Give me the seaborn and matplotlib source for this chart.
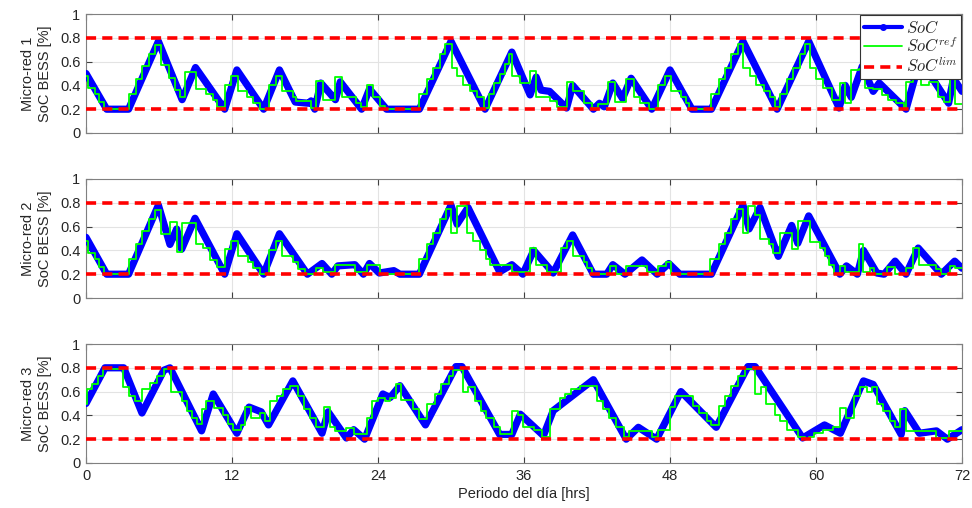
import numpy as np
import pandas as pd
import matplotlib
matplotlib.use("Agg")
import matplotlib.pyplot as plt
import seaborn as sns
from matplotlib.lines import Line2D

# ---------------- data ----------------
x_ticks = [0, 12, 24, 36, 48, 60, 72]
y_ticks = [0, 0.2, 0.4, 0.6, 0.8, 1]
soc_lim = [0.2, 0.8]
panel_names = ["Micro-red 1", "Micro-red 2", "Micro-red 3"]

# Micro-red 1
t1_soc = [0, 1.7, 3.5, 5.95, 7.9, 9.0, 11.4, 12.4, 14.6, 15.9, 17.2, 18.3, 18.5, 18.8, 19.3,
          20.5, 20.9, 22.65, 23.3, 24.7, 27.4, 30.0, 32.8, 35.0, 36.5, 37.0, 37.4, 38.1, 39.5,
          40.0, 41.7, 42.2, 42.6, 43.3, 44.1, 44.8, 46.5, 48.0, 49.8, 51.4, 54.0, 56.8, 59.4,
          61.9, 62.4, 62.9, 63.8, 64.7, 65.2, 67.4, 68.5, 69.5, 70.9, 71.3, 72]
v1_soc = [0.5, 0.2, 0.2, 0.77, 0.28, 0.55, 0.2, 0.53, 0.2, 0.53, 0.26, 0.25, 0.27, 0.2, 0.42,
          0.28, 0.43, 0.2, 0.37, 0.2, 0.2, 0.77, 0.2, 0.68, 0.32, 0.47, 0.36, 0.35, 0.21,
          0.40, 0.2, 0.25, 0.22, 0.42, 0.29, 0.46, 0.2, 0.53, 0.2, 0.2, 0.77, 0.2, 0.77,
          0.21, 0.40, 0.30, 0.56, 0.35, 0.42, 0.2, 0.60, 0.47, 0.25, 0.46, 0.35]
t1_ref = [0, 0.2, 0.7, 1.1, 1.5, 3.5, 4.1, 4.6, 5.2, 5.7, 6.15, 6.8, 7.3, 7.7, 8.1, 9.0, 9.9,
          10.4, 10.8, 11.4, 11.9, 12.5, 13.2, 13.7, 14.3, 15.0, 15.6, 16.1, 17.0, 17.3, 18.5,
          18.9, 19.5, 20.5, 21.0, 22.2, 22.6, 23.1, 23.6, 24.2, 24.6, 27.4, 28.0, 28.5, 29.1,
          29.5, 30.1, 30.5, 31.0, 31.6, 32.1, 32.7, 33.1, 33.5, 34.0, 34.4, 34.8, 35.0, 35.7,
          36.5, 37.0, 38.1, 38.7, 39.5, 40.05, 40.9, 41.6, 42.1, 42.9, 43.5, 44.4, 45.0, 45.5,
          46.3, 47.0, 47.6, 48.1, 48.9, 49.3, 49.6, 51.4, 52.0, 52.5, 53.0, 53.6, 54.0, 54.6,
          55.1, 55.7, 56.2, 56.6, 57.0, 57.6, 58.1, 58.7, 59.1, 59.5, 60.0, 60.6, 61.3, 62.0,
          62.4, 62.9, 63.5, 64.0, 64.7, 65.4, 65.9, 66.6, 67.2, 67.4, 68.0, 68.6, 69.3, 70.0,
          70.5, 71.0, 71.4, 72]
v1_ref = [0.48, 0.38, 0.33, 0.26, 0.2, 0.33, 0.45, 0.56, 0.66, 0.74, 0.57, 0.46, 0.36, 0.30,
          0.51, 0.37, 0.33, 0.28, 0.22, 0.40, 0.48, 0.35, 0.30, 0.25, 0.2, 0.40, 0.48, 0.35,
          0.30, 0.27, 0.21, 0.44, 0.28, 0.47, 0.30, 0.25, 0.22, 0.40, 0.30, 0.23, 0.2, 0.33,
          0.45, 0.55, 0.66, 0.75, 0.55, 0.48, 0.40, 0.35, 0.30, 0.21, 0.33, 0.42, 0.50, 0.58,
          0.66, 0.48, 0.42, 0.52, 0.30, 0.27, 0.22, 0.43, 0.35, 0.25, 0.21, 0.24, 0.43, 0.26,
          0.45, 0.30, 0.25, 0.2, 0.40, 0.48, 0.35, 0.30, 0.25, 0.2, 0.33, 0.45, 0.55, 0.66,
          0.75, 0.55, 0.48, 0.40, 0.35, 0.30, 0.22, 0.33, 0.45, 0.55, 0.66, 0.75, 0.55, 0.45,
          0.38, 0.28, 0.42, 0.25, 0.53, 0.54, 0.38, 0.37, 0.32, 0.28, 0.25, 0.2, 0.43, 0.52,
          0.40, 0.43, 0.30, 0.26, 0.47, 0.24, 0.24]

# Micro-red 2
t2_soc = [0, 1.7, 3.5, 5.95, 6.9, 7.45, 7.86, 8.96, 11.4, 12.4, 14.6, 15.9, 18.2, 19.4, 20.2,
          20.7, 22.1, 22.8, 23.3, 24.1, 25.3, 25.8, 27.4, 30.0, 30.5, 31.4, 34.0, 35.0, 35.9,
          36.8, 38.4, 40.0, 41.7, 42.8, 43.3, 44.3, 45.7, 46.95, 47.9, 48.8, 51.4, 54.0, 54.5,
          55.4, 56.9, 58.0, 58.5, 59.4, 61.96, 62.5, 63.4, 63.9, 65.0, 65.6, 66.5, 67.4, 68.4,
          70.3, 71.4, 72]
v2_soc = [0.51, 0.2, 0.2, 0.78, 0.45, 0.58, 0.41, 0.67, 0.2, 0.54, 0.2, 0.54, 0.2, 0.29, 0.2,
          0.27, 0.28, 0.2, 0.29, 0.21, 0.23, 0.2, 0.2, 0.78, 0.62, 0.76, 0.22, 0.28, 0.2,
          0.40, 0.21, 0.53, 0.2, 0.2, 0.28, 0.2, 0.32, 0.2, 0.29, 0.2, 0.2, 0.78, 0.58,
          0.76, 0.35, 0.61, 0.46, 0.69, 0.2, 0.27, 0.2, 0.40, 0.21, 0.2, 0.31, 0.2, 0.42,
          0.2, 0.31, 0.25]
t2_ref = [0, 0.2, 0.7, 1.1, 1.5, 3.5, 4.1, 4.6, 5.2, 5.7, 6.15, 6.9, 7.5, 7.9, 9.0, 9.6,
          10.2, 10.8, 11.4, 11.9, 12.5, 13.3, 13.7, 14.3, 15.0, 15.6, 16.1, 17.0, 17.4, 18.0,
          18.9, 19.5, 20.5, 22.1, 23.1, 24.2, 27.4, 28.0, 28.5, 29.1, 29.6, 30.0, 30.5, 31.3,
          31.8, 32.4, 32.9, 33.2, 35.0, 36.5, 37.0, 37.9, 39.0, 39.5, 40.0, 40.9, 41.2, 41.6,
          43.1, 43.6, 44.4, 46.1, 47.0, 47.7, 48.1, 51.3, 52.0, 52.5, 53.0, 53.5, 54.0, 54.4,
          55.0, 55.4, 56.1, 56.5, 57.0, 58.0, 58.5, 59.5, 60.3, 60.7, 61.1, 61.5, 62.0, 62.4,
          63.5, 63.9, 64.4, 64.8, 65.8, 66.5, 67.4, 68.0, 68.5, 69.9, 70.3, 71.0, 71.4, 72]
v2_ref = [0.48, 0.38, 0.33, 0.26, 0.2, 0.33, 0.45, 0.56, 0.66, 0.74, 0.54, 0.64, 0.39, 0.63,
          0.45, 0.42, 0.32, 0.26, 0.41, 0.48, 0.35, 0.30, 0.25, 0.2, 0.40, 0.48, 0.35, 0.30,
          0.24, 0.2, 0.25, 0.22, 0.28, 0.22, 0.28, 0.2, 0.33, 0.45, 0.55, 0.66, 0.75, 0.55,
          0.77, 0.55, 0.48, 0.40, 0.33, 0.28, 0.22, 0.42, 0.28, 0.22, 0.42, 0.48, 0.35, 0.30,
          0.25, 0.2, 0.27, 0.2, 0.27, 0.22, 0.27, 0.30, 0.2, 0.33, 0.45, 0.55, 0.66, 0.75,
          0.55, 0.77, 0.70, 0.50, 0.45, 0.38, 0.55, 0.41, 0.65, 0.47, 0.42, 0.35, 0.28, 0.2,
          0.27, 0.22, 0.45, 0.22, 0.25, 0.2, 0.26, 0.2, 0.25, 0.42, 0.28, 0.24, 0.2, 0.27,
          0.25, 0.25]

# Micro-red 3
t3_soc = [0, 1.56, 3.1, 4.6, 6.4, 6.9, 9.5, 10.46, 12.4, 13.4, 14.4, 15.0, 17.0, 19.4, 19.9,
          21.4, 22.0, 22.9, 24.4, 25.0, 25.8, 27.9, 30.4, 30.9, 34.0, 35.0, 35.7, 37.6, 38.4,
          41.7, 44.4, 45.4, 46.9, 48.9, 51.8, 54.4, 55.0, 58.9, 60.7, 62.0, 63.9, 64.7, 67.0,
          67.3, 68.5, 69.9, 70.8, 72]
v3_soc = [0.5, 0.8, 0.8, 0.42, 0.78, 0.8, 0.27, 0.58, 0.25, 0.47, 0.43, 0.32, 0.69, 0.25, 0.43,
          0.21, 0.28, 0.2, 0.58, 0.55, 0.65, 0.32, 0.81, 0.81, 0.24, 0.24, 0.41, 0.23, 0.44,
          0.70, 0.2, 0.30, 0.2, 0.60, 0.30, 0.81, 0.81, 0.21, 0.32, 0.25, 0.69, 0.66, 0.24,
          0.44, 0.25, 0.27, 0.2, 0.28]
t3_ref = [0, 0.1, 0.47, 1.0, 1.4, 3.07, 3.5, 4.0, 4.6, 5.3, 5.8, 6.4, 7.0, 7.9, 8.3, 8.7, 9.1,
          9.5, 9.9, 10.5, 11.3, 11.7, 12.1, 12.7, 13.1, 13.6, 14.3, 14.7, 15.1, 15.7, 16.2,
          16.8, 17.4, 17.9, 18.4, 18.9, 19.6, 20.05, 20.5, 21.4, 22.0, 23.1, 23.5, 24.0, 24.6,
          25.0, 25.5, 25.9, 26.9, 27.4, 28.0, 28.7, 29.2, 29.8, 30.2, 31.0, 31.4, 32.0, 32.5,
          32.9, 33.5, 34.0, 35.0, 35.5, 35.9, 36.8, 37.5, 38.1, 38.95, 39.4, 39.9, 40.6, 42.0,
          42.5, 43.0, 43.6, 44.2, 44.6, 46.5, 47.0, 48.0, 48.4, 49.9, 50.4, 51.0, 51.4, 52.0,
          52.5, 53.0, 53.6, 54.2, 55.0, 55.5, 55.9, 56.6, 57.0, 57.6, 58.5, 59.1, 59.4, 59.8,
          60.6, 61.4, 62.0, 62.5, 63.1, 63.6, 64.2, 64.6, 65.0, 65.5, 66.1, 66.5, 66.9, 67.4,
          69.9, 70.9, 72]
v3_ref = [0.5, 0.62, 0.66, 0.73, 0.79, 0.64, 0.56, 0.52, 0.62, 0.67, 0.73, 0.79, 0.60, 0.52,
          0.44, 0.38, 0.33, 0.45, 0.52, 0.46, 0.40, 0.33, 0.28, 0.32, 0.47, 0.38, 0.42, 0.35,
          0.52, 0.56, 0.62, 0.65, 0.56, 0.45, 0.38, 0.30, 0.47, 0.30, 0.27, 0.29, 0.24, 0.38,
          0.52, 0.55, 0.52, 0.55, 0.66, 0.53, 0.45, 0.37, 0.50, 0.58, 0.66, 0.73, 0.78, 0.60,
          0.64, 0.52, 0.44, 0.38, 0.30, 0.24, 0.44, 0.40, 0.30, 0.28, 0.22, 0.45, 0.55, 0.58,
          0.62, 0.65, 0.52, 0.45, 0.38, 0.30, 0.22, 0.27, 0.22, 0.28, 0.47, 0.56, 0.48, 0.42,
          0.35, 0.32, 0.48, 0.56, 0.65, 0.73, 0.79, 0.58, 0.64, 0.50, 0.40, 0.35, 0.28, 0.22,
          0.2, 0.22, 0.25, 0.28, 0.30, 0.46, 0.38, 0.56, 0.64, 0.60, 0.64, 0.50, 0.44, 0.35,
          0.30, 0.45, 0.27, 0.21, 0.27, 0.27]

panels = [
    (t1_soc, v1_soc, t1_ref, v1_ref),
    (t2_soc, v2_soc, t2_ref, v2_ref),
    (t3_soc, v3_soc, t3_ref, v3_ref),
]

# ---------------- style ----------------
sns.set_theme(style="white")
plt.rcParams["font.family"] = ["Liberation Sans", "DejaVu Sans"]
plt.rcParams["mathtext.fontset"] = "cm"

fig = plt.figure(figsize=(9.72, 5.08), dpi=100)
W, H = 972, 508
boxes = [(14, 133), (179, 298), (344, 463)]
left_px, right_px = 86, 962

BLUE = (0, 0, 1)
GREEN = (0, 1, 0)
RED = (1, 0, 0)
TXT = "#262626"
DASH = [2.8, 1.7]

for i, ((ts, vs, tr, vr), (top, bot)) in enumerate(zip(panels, boxes)):
    ax = fig.add_axes([left_px / W, 1 - bot / H, (right_px - left_px) / W, (bot - top) / H])
    df_soc = pd.DataFrame({"t": ts, "v": vs})
    df_ref = pd.DataFrame({"t": tr, "v": vr})
    sns.lineplot(data=df_soc, x="t", y="v", ax=ax, color=BLUE, linewidth=5.2,
                 estimator=None, sort=False, solid_capstyle="round", solid_joinstyle="round",
                 zorder=3)
    sns.lineplot(data=df_ref, x="t", y="v", ax=ax, color=GREEN, linewidth=1.3,
                 estimator=None, sort=False, drawstyle="steps-post", zorder=4)
    for lim in soc_lim:
        df_lim = pd.DataFrame({"t": [x_ticks[0], x_ticks[-1]], "v": [lim, lim]})
        sns.lineplot(data=df_lim, x="t", y="v", ax=ax, color=RED, linewidth=2.6,
                     estimator=None, dashes=False, zorder=5).lines[-1].set_dashes(DASH)

    ax.set_xlim(0, 72)
    ax.set_ylim(0, 1)
    ax.set_xticks(x_ticks)
    ax.set_yticks(y_ticks)
    ax.set_yticklabels(["0", "0.2", "0.4", "0.6", "0.8", "1"])
    ax.grid(True, color="#e3e3e3", linewidth=0.8)
    ax.set_axisbelow(True)
    for sp in ax.spines.values():
        sp.set_visible(True)
        sp.set_color("#808080")
        sp.set_linewidth(0.8)
    ax.tick_params(direction="in", length=4, width=0.8, color="#404040",
                   top=True, right=True, bottom=True, left=True,
                   labelsize=10.5, labelcolor=TXT, pad=4)
    ax.set_ylabel(f"{panel_names[i]}\nSoC BESS [%]", fontsize=10.5, color=TXT, labelpad=6,
                  linespacing=1.25)
    if i < 2:
        ax.set_xticklabels([])
        ax.set_xlabel("")
    else:
        ax.set_xticklabels([str(x) for x in x_ticks])
        ax.set_xlabel("Periodo del día [hrs]", fontsize=10.5, color=TXT, labelpad=3)
    if i == 0:
        handles = [
            Line2D([], [], color=BLUE, linewidth=3, marker="o", markersize=4),
            Line2D([], [], color=GREEN, linewidth=1.3),
            Line2D([], [], color=RED, linewidth=2.6, dashes=DASH),
        ]
        leg = ax.legend(handles, [r"$SoC$", r"$SoC^{ref}$", r"$SoC^{lim}$"],
                        loc="upper right", bbox_to_anchor=(0.999, 0.99),
                        fontsize=12, frameon=True, fancybox=False, framealpha=1,
                        handlelength=2.3, borderpad=0.2, labelspacing=0.05,
                        handletextpad=0.25, borderaxespad=0.0)
        leg.get_frame().set_edgecolor("#333333")
        leg.get_frame().set_linewidth(0.8)
        leg.get_frame().set_facecolor("white")
        leg.set_zorder(10)

fig.savefig("out.png", dpi=100)
